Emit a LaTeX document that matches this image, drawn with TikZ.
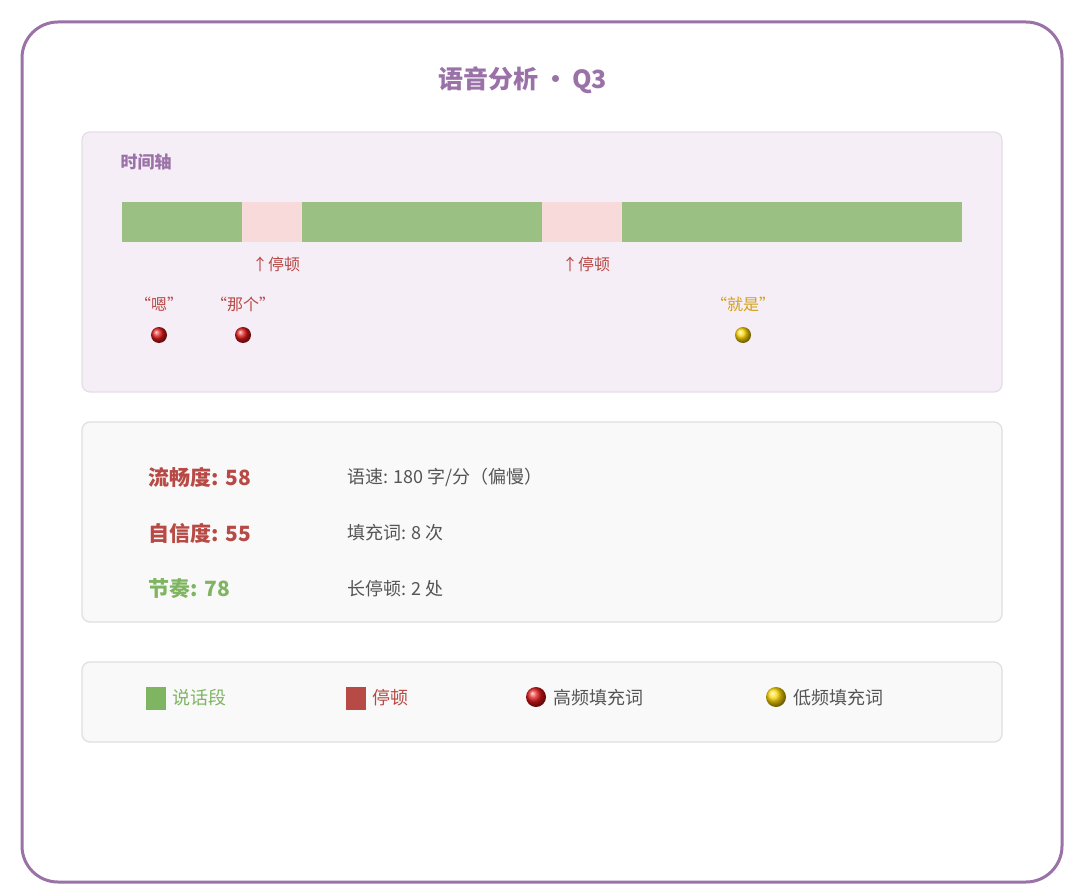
\documentclass[tikz,border=0pt]{standalone}
\usepackage{fontspec}
\setmainfont{Noto Sans CJK SC}
\begin{document}
\begin{tikzpicture}[x=1pt,y=-1pt,
 panel/.style={rounded corners=8pt,line width=1.2pt},
 lbl/.style={anchor=west,font=\fontsize{21}{24}\selectfont\bfseries},
 val/.style={anchor=west,text=c-gray,font=\fontsize{18}{21}\selectfont},
 dot/.style={circle,minimum size=16pt,inner sep=0pt,shading=ball},
 small/.style={font=\fontsize{16}{19}\selectfont}]
\definecolor{c-purple}{HTML}{9B72A8}
\definecolor{c-red}{HTML}{B84A45}
\definecolor{c-green}{HTML}{7FB560}
\definecolor{c-bar}{HTML}{9BC083}
\definecolor{c-pink}{HTML}{F8DADB}
\definecolor{c-gray}{HTML}{555555}
\definecolor{c-gold}{HTML}{D4A017}
\definecolor{c-panel}{HTML}{F5EEF7}
\definecolor{c-ball-r}{HTML}{E01818}
\definecolor{c-ball-y}{HTML}{FFD700}
\useasboundingbox (0,0) rectangle (1076,896);
\fill[white] (0,0) rectangle (1076,896);
\draw[c-purple,line width=3pt,rounded corners=36pt] (22,22) rectangle (1062,882);
\node[text=c-purple,font=\fontsize{25}{28}\selectfont\bfseries] (title) at (523,80) {语音分析\,·\,Q3};
% panel 1
\draw[panel,fill=c-panel,draw=c-purple!25] (82,132) rectangle (1002,392);
\node[text=c-purple,font=\fontsize{17}{20}\selectfont\bfseries] (axis) at (146,162) {时间轴};
\fill[c-bar] (122,202) rectangle (242,242);
\fill[c-pink] (242,202) rectangle (302,242);
\fill[c-bar] (302,202) rectangle (542,242);
\fill[c-pink] (542,202) rectangle (622,242);
\fill[c-bar] (622,202) rectangle (962,242);
\node[small,text=c-red] (p1) at (276,264) {↑停顿};
\node[small,text=c-red] (p2) at (586,264) {↑停顿};
\node[small,text=c-red] (w1) at (159,304) {“嗯”};
\node[small,text=c-red] (w2) at (243,304) {“那个”};
\node[small,text=c-gold] (w3) at (743,304) {“就是”};
\node[dot,ball color=c-ball-r] (d1) at (159,335) {};
\node[dot,ball color=c-ball-r] (d2) at (243,335) {};
\node[dot,ball color=c-ball-y] (d3) at (743,335) {};
% panel 2
\draw[panel,fill=gray!5,draw=gray!25] (82,422) rectangle (1002,622);
\node[lbl,text=c-red] (f) at (145,477) {流畅度: 58};
\node[lbl,text=c-red] (c) at (145,533) {自信度: 55};
\node[lbl,text=c-green] (r) at (145,589) {节奏: 78};
\node[val] (v1) at (344,477) {语速: 180 字/分（偏慢）};
\node[val] (v2) at (344,533) {填充词: 8 次};
\node[val] (v3) at (344,589) {长停顿: 2 处};
% panel 3
\draw[panel,fill=gray!5,draw=gray!25] (82,662) rectangle (1002,742);
\fill[c-green] (146,687) rectangle (166,710);
\node[val,text=c-green] (l1) at (169,698) {说话段};
\fill[c-red] (346,687) rectangle (366,710);
\node[val,text=c-red] (l2) at (369,698) {停顿};
\node[dot,minimum size=20pt,ball color=c-ball-r] (ld1) at (536,697) {};
\node[val] (l3) at (550,698) {高频填充词};
\node[dot,minimum size=20pt,ball color=c-ball-y] (ld2) at (776,697) {};
\node[val] (l4) at (790,698) {低频填充词};
\end{tikzpicture}
\end{document}
